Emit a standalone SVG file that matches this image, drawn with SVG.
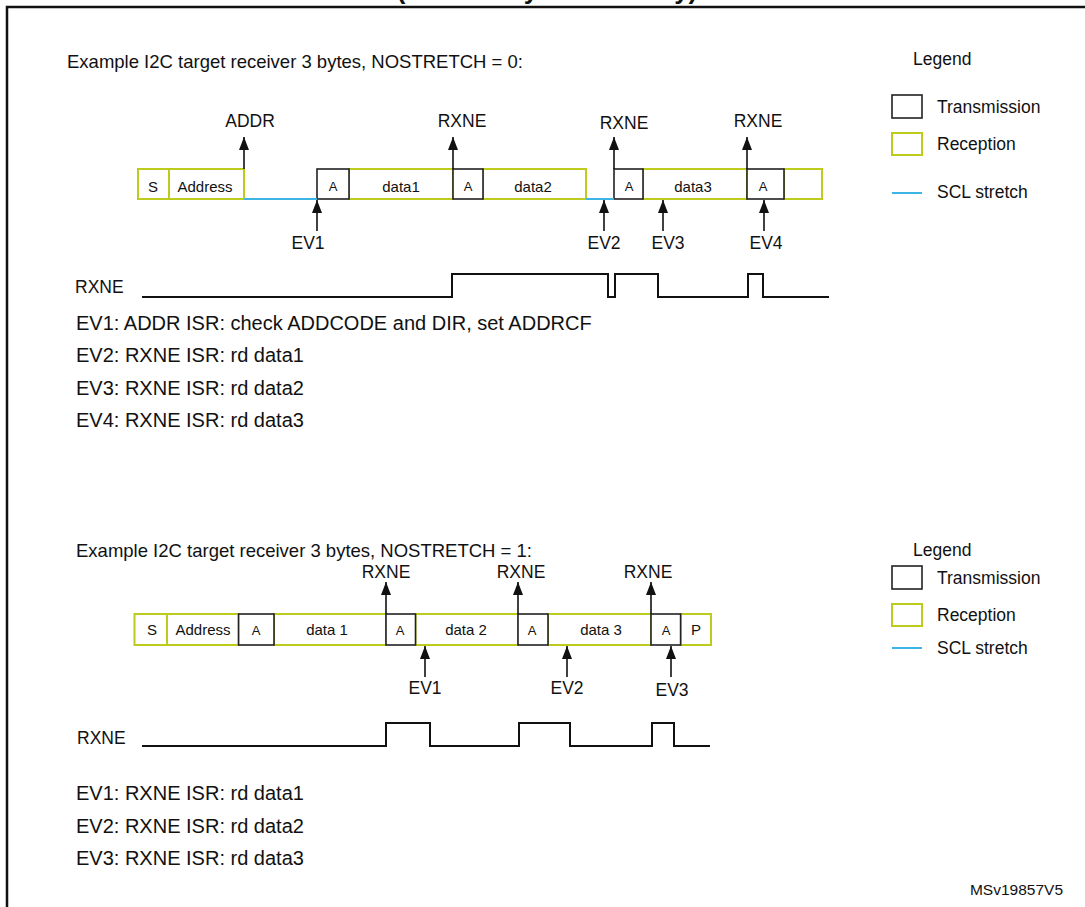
<svg xmlns="http://www.w3.org/2000/svg" width="1085" height="907" viewBox="0 0 1085 907">
<defs>
<marker id="ah" viewBox="0 0 13 10" refX="13" refY="5" markerWidth="13" markerHeight="10" markerUnits="userSpaceOnUse" orient="auto">
<path d="M0,0 L13,5 L0,10 Z" fill="#111"/>
</marker>
<style>
text{font-family:"Liberation Sans",Arial,sans-serif;fill:#111}
.rx{fill:#fff;stroke:#bccb1c;stroke-width:2}
.tx{fill:#fff;stroke:#222;stroke-width:1.6}
.scl{stroke:#3cb4e6;stroke-width:2;fill:none}
.arr{stroke:#111;stroke-width:1.6;fill:none}
.wave{stroke:#111;stroke-width:2;fill:none}
.h{font-size:18.5px}
.lg{font-size:17.5px}
.lb{font-size:17.5px;text-anchor:middle}
.bx{font-size:15px;text-anchor:middle}
.a{font-size:13px;text-anchor:middle}
.ev{font-size:20px}
</style>
</defs>
<rect width="1085" height="907" fill="#fff"/>
<text x="547" y="-1" text-anchor="middle" style="font-size:26px;font-weight:bold">(mandatory events only)</text>
<path d="M7,907 V7 H1085" stroke="#111" stroke-width="2.5" fill="none"/>

<g id="top-section">
<text class="h" x="67" y="68">Example I2C target receiver 3 bytes, NOSTRETCH = 0:</text>
<g id="top-legend">
<text class="lg" x="913" y="65">Legend</text>
<rect class="tx" x="892" y="95" width="30" height="23"/>
<text class="lg" x="937" y="113">Transmission</text>
<rect class="rx" x="892" y="133" width="30" height="22"/>
<text class="lg" x="937" y="150">Reception</text>
<line class="scl" x1="892" y1="193" x2="922" y2="193"/>
<text class="lg" x="937" y="198">SCL stretch</text>
</g>
<g id="top-frame">
<g id="t-S"><rect class="rx" x="138" y="169" width="31" height="30"/><text class="bx" x="153" y="192">S</text></g>
<g id="t-addr"><rect class="rx" x="169" y="169" width="75" height="30"/><text class="bx" x="205" y="192">Address</text></g>
<g id="t-d1"><rect class="rx" x="349" y="169" width="104" height="30"/><text class="bx" x="401" y="192">data1</text></g>
<g id="t-d2"><rect class="rx" x="483" y="169" width="103" height="30"/><text class="bx" x="533" y="192">data2</text></g>
<g id="t-d3"><rect class="rx" x="643" y="169" width="104" height="30"/><text class="bx" x="693" y="192">data3</text></g>
<g id="t-end"><rect class="rx" x="784" y="169" width="38" height="30"/></g>
<g id="t-a1"><rect class="tx" x="317" y="169" width="32" height="30"/><text class="a" x="333" y="191">A</text></g>
<g id="t-a2"><rect class="tx" x="453" y="169" width="30" height="30"/><text class="a" x="468" y="191">A</text></g>
<g id="t-a3"><rect class="tx" x="614" y="169" width="29" height="30"/><text class="a" x="629" y="191">A</text></g>
<g id="t-a4"><rect class="tx" x="747" y="169" width="37" height="30"/><text class="a" x="763" y="191">A</text></g>
</g>
<g id="top-connectors">
<line class="scl" x1="244" y1="199" x2="317" y2="199"/>
<line class="scl" x1="586" y1="199" x2="614" y2="199"/>
<line class="arr" x1="244" y1="169" x2="244" y2="137" marker-end="url(#ah)"/>
<line class="arr" x1="453" y1="169" x2="453" y2="137" marker-end="url(#ah)"/>
<line class="arr" x1="614" y1="169" x2="614" y2="137" marker-end="url(#ah)"/>
<line class="arr" x1="747" y1="169" x2="747" y2="137" marker-end="url(#ah)"/>
<line class="arr" x1="317" y1="231" x2="317" y2="200" marker-end="url(#ah)"/>
<line class="arr" x1="604" y1="231" x2="604" y2="200" marker-end="url(#ah)"/>
<line class="arr" x1="663" y1="231" x2="663" y2="200" marker-end="url(#ah)"/>
<line class="arr" x1="764" y1="231" x2="764" y2="200" marker-end="url(#ah)"/>
</g>
<g id="top-flags">
<text class="lb" x="250" y="127">ADDR</text>
<text class="lb" x="462" y="127">RXNE</text>
<text class="lb" x="624" y="129">RXNE</text>
<text class="lb" x="758" y="127">RXNE</text>
<text class="lb" x="308" y="249">EV1</text>
<text class="lb" x="604" y="249">EV2</text>
<text class="lb" x="668" y="249">EV3</text>
<text class="lb" x="766" y="249">EV4</text>
</g>
<g id="top-wave">
<text class="lg" x="75" y="293">RXNE</text>
<path class="wave" d="M142,297 H452 V274 H608 V297 H615 V274 H658 V297 H748 V274 H763 V297 H829"/>
</g>
<g id="top-events">
<text class="ev" x="76" y="330">EV1: ADDR ISR: check ADDCODE and DIR, set ADDRCF</text>
<text class="ev" x="76" y="362">EV2: RXNE ISR: rd data1</text>
<text class="ev" x="76" y="394.5">EV3: RXNE ISR: rd data2</text>
<text class="ev" x="76" y="427">EV4: RXNE ISR: rd data3</text>
</g>
</g>

<g id="bottom-section">
<text class="h" x="76" y="557">Example I2C target receiver 3 bytes, NOSTRETCH = 1:</text>
<g id="bottom-legend">
<text class="lg" x="913" y="556">Legend</text>
<rect class="tx" x="892" y="566" width="30" height="23"/>
<text class="lg" x="937" y="584">Transmission</text>
<rect class="rx" x="892" y="604" width="30" height="22"/>
<text class="lg" x="937" y="621">Reception</text>
<line class="scl" x1="892" y1="648" x2="922" y2="648"/>
<text class="lg" x="937" y="654">SCL stretch</text>
</g>
<g id="bottom-frame">
<g id="b-S"><rect class="rx" x="134.5" y="614" width="32.5" height="31"/><text class="bx" x="152" y="635">S</text></g>
<g id="b-addr"><rect class="rx" x="167" y="614" width="71.6" height="31"/><text class="bx" x="203" y="635">Address</text></g>
<g id="b-d1"><rect class="rx" x="274" y="614" width="112" height="31"/><text class="bx" x="327" y="635">data 1</text></g>
<g id="b-d2"><rect class="rx" x="415.5" y="614" width="102.5" height="31"/><text class="bx" x="466" y="635">data 2</text></g>
<g id="b-d3"><rect class="rx" x="548" y="614" width="103" height="31"/><text class="bx" x="601" y="635">data 3</text></g>
<g id="b-P"><rect class="rx" x="680.6" y="614" width="30.4" height="31"/><text class="bx" x="696" y="635">P</text></g>
<g id="b-a1"><rect class="tx" x="238.6" y="614" width="35.4" height="31"/><text class="a" x="256" y="635">A</text></g>
<g id="b-a2"><rect class="tx" x="386" y="614" width="29.5" height="31"/><text class="a" x="400" y="635">A</text></g>
<g id="b-a3"><rect class="tx" x="518" y="614" width="30" height="31"/><text class="a" x="532" y="635">A</text></g>
<g id="b-a4"><rect class="tx" x="651" y="614" width="29.6" height="31"/><text class="a" x="666" y="635">A</text></g>
</g>
<g id="bottom-connectors">
<line class="arr" x1="386" y1="614" x2="386" y2="582" marker-end="url(#ah)"/>
<line class="arr" x1="518" y1="614" x2="518" y2="582" marker-end="url(#ah)"/>
<line class="arr" x1="651" y1="614" x2="651" y2="582" marker-end="url(#ah)"/>
<line class="arr" x1="425" y1="677" x2="425" y2="646" marker-end="url(#ah)"/>
<line class="arr" x1="567" y1="677" x2="567" y2="646" marker-end="url(#ah)"/>
<line class="arr" x1="671" y1="677" x2="671" y2="646" marker-end="url(#ah)"/>
</g>
<g id="bottom-flags">
<text class="lb" x="386" y="578">RXNE</text>
<text class="lb" x="521" y="578">RXNE</text>
<text class="lb" x="648" y="578">RXNE</text>
<text class="lb" x="425" y="694">EV1</text>
<text class="lb" x="567" y="694">EV2</text>
<text class="lb" x="672" y="696">EV3</text>
</g>
<g id="bottom-wave">
<text class="lg" x="77" y="744">RXNE</text>
<path class="wave" d="M142,746 H386 V723 H430 V746 H519 V723 H570 V746 H652 V723 H674 V746 H710"/>
</g>
<g id="bottom-events">
<text class="ev" x="76" y="800">EV1: RXNE ISR: rd data1</text>
<text class="ev" x="76" y="832.5">EV2: RXNE ISR: rd data2</text>
<text class="ev" x="76" y="865">EV3: RXNE ISR: rd data3</text>
</g>
</g>
<text x="1063" y="895" text-anchor="end" style="font-size:15.5px">MSv19857V5</text>
</svg>
